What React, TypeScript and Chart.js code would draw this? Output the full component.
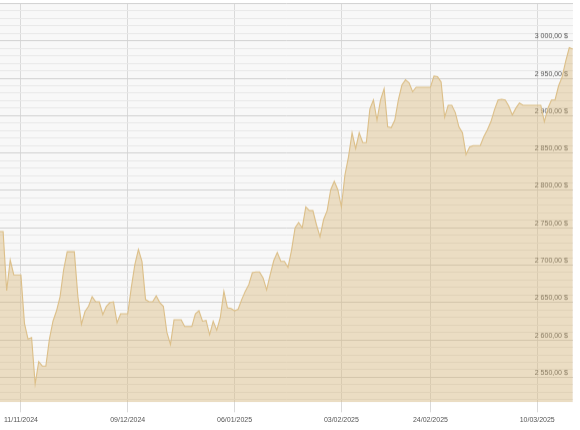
import React, { useEffect, useRef } from 'react';
import { Chart, registerables } from 'chart.js';

Chart.register(...registerables);

// dates shown under the chart and the session they sit on
const tickDates = ['11/11/2024', '09/12/2024', '06/01/2025', '03/02/2025', '24/02/2025', '10/03/2025'];
const tickSessions = [6, 36, 66, 96, 121, 151];

// gold price, USD per ounce, one value per session
const prices = [
  2745, 2745, 2666, 2707, 2687, 2687, 2687, 2622, 2601, 2603,
  2541, 2571, 2565, 2565, 2601, 2625, 2639, 2658, 2694, 2718,
  2718, 2718, 2658, 2621, 2638, 2645, 2658, 2651, 2651, 2634,
  2645, 2650, 2651, 2623, 2635, 2635, 2635, 2670, 2701, 2721,
  2705, 2654, 2651, 2651, 2659, 2650, 2645, 2610, 2594, 2627,
  2627, 2627, 2618, 2618, 2618, 2635, 2639, 2625, 2626, 2607,
  2625, 2613, 2630, 2665, 2643, 2642, 2639, 2641, 2654, 2665,
  2674, 2690, 2691, 2691, 2683, 2667, 2687, 2706, 2717, 2705,
  2705, 2697, 2720, 2750, 2757, 2750, 2778, 2773, 2773, 2754,
  2738, 2761, 2773, 2801, 2812, 2801, 2778, 2821, 2845, 2877,
  2856, 2877, 2864, 2864, 2909, 2921, 2894, 2921, 2936, 2885,
  2884, 2894, 2921, 2941, 2948, 2944, 2932, 2938, 2938, 2938,
  2938, 2938, 2953, 2952, 2945, 2898, 2914, 2914, 2904, 2885,
  2877, 2848, 2858, 2860, 2860, 2860, 2872, 2881, 2892, 2908,
  2921, 2922, 2921, 2913, 2901, 2910, 2917, 2914, 2914, 2914,
  2914, 2914, 2914, 2892, 2910, 2921, 2921, 2940, 2952, 2973,
  2991, 2989,
];

const yMin = 2516.6;
const yMax = 3050;

const priceLabel = (v: number) => {
  const thousands = Math.floor(v / 1000);
  const rest = String(v % 1000).padStart(3, '0');
  return `${thousands} ${rest},00 $`;
};

const plotBackground = {
  id: 'plotBackground',
  beforeDraw(chart: Chart) {
    const { ctx, chartArea: a } = chart;
    ctx.save();
    ctx.fillStyle = '#f8f8f8';
    ctx.fillRect(a.left, a.top, a.right - a.left, a.bottom - a.top);
    ctx.restore();
  },
};

const GoldChart: React.FC = () => {
  const canvasRef = useRef<HTMLCanvasElement | null>(null);

  useEffect(() => {
    if (!canvasRef.current) return;

    const chart = new Chart(canvasRef.current, {
      type: 'line',
      data: {
        datasets: [
          {
            data: prices.map((p, i) => ({ x: i, y: p })),
            borderColor: '#dcbf88',
            borderWidth: 1.1,
            backgroundColor: 'rgba(215,180,115,0.4)',
            fill: 'start',
            pointRadius: 0,
            tension: 0,
          },
        ],
      },
      options: {
        animation: false,
        responsive: true,
        maintainAspectRatio: false,
        layout: { padding: { top: 3.5, left: 0, right: 0, bottom: 0 } },
        plugins: {
          legend: { display: false },
          tooltip: { enabled: false },
        },
        scales: {
          x: {
            type: 'linear',
            min: 0,
            max: prices.length - 1,
            afterBuildTicks: (axis) => {
              axis.ticks = tickSessions.map((v) => ({ value: v }));
            },
            afterFit: (axis) => {
              axis.paddingLeft = 0;
              axis.paddingRight = 0;
            },
            ticks: {
              autoSkip: false,
              maxRotation: 0,
              padding: 4,
              color: '#555',
              font: { family: 'Liberation Sans', size: 7 },
              callback: (value) => tickDates[tickSessions.indexOf(Number(value))] ?? '',
            },
            grid: { color: '#dadada', drawTicks: true, tickLength: 10 },
            border: { display: false },
          },
          y: {
            position: 'right',
            min: yMin,
            max: yMax,
            afterBuildTicks: (axis) => {
              const ticks = [];
              for (let v = 2520; v <= yMax; v += 10) ticks.push({ value: v });
              axis.ticks = ticks;
            },
            afterFit: (axis) => {
              axis.width = 0;
              axis.paddingTop = 0;
              axis.paddingBottom = 0;
            },
            ticks: {
              mirror: true,
              autoSkip: false,
              padding: -5,
              labelOffset: -4.5,
              color: '#555',
              font: { family: 'Liberation Sans', size: 7 },
              callback: (value) => {
                const v = Number(value);
                return v % 50 === 0 && v >= 2550 && v <= 3000 ? priceLabel(v) : '';
              },
            },
            grid: {
              drawTicks: false,
              color: (ctx) => (ctx.tick && ctx.tick.value % 50 === 0 ? '#d2d2d2' : '#e8e8e8'),
            },
            border: { display: false },
          },
        },
      },
      plugins: [plotBackground],
    });

    return () => chart.destroy();
  }, []);

  return (
    <div style={{ position: 'fixed', left: 0, top: 0, width: 580, height: 430, overflow: 'hidden', background: '#fff' }}>
      <div style={{ position: 'absolute', left: -1.4, top: 0, width: 574.4, height: 427.7 }}>
        <canvas ref={canvasRef} />
      </div>
    </div>
  );
};

export default function App() {
  return <GoldChart />;
}
